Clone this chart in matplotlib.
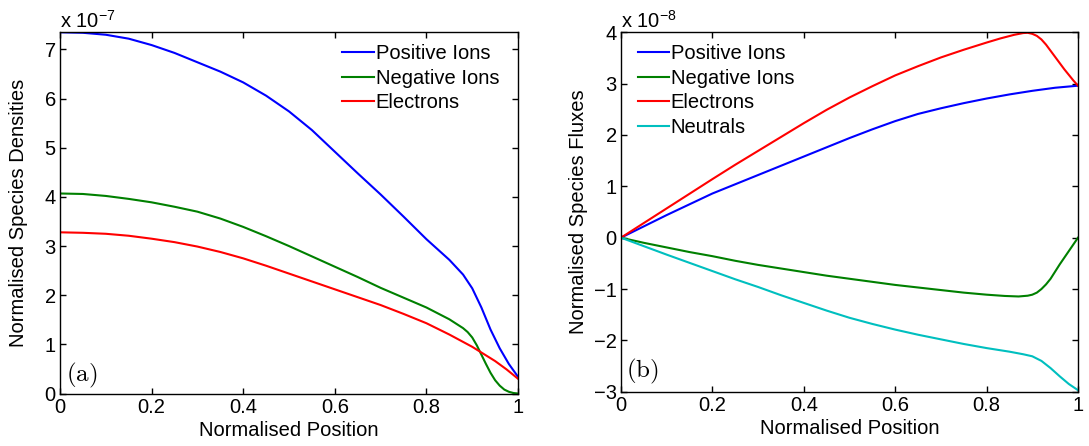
import matplotlib
matplotlib.use('Agg')
import matplotlib.pyplot as plt

plt.rcParams['font.family'] = ['Liberation Sans', 'DejaVu Sans']
plt.rcParams['mathtext.fontset'] = 'custom'
plt.rcParams['mathtext.rm'] = 'Liberation Sans'

# (a) densities, units of 1e-7
x_pos_d = [0, 0.05, 0.1, 0.15, 0.2, 0.25, 0.3, 0.35, 0.4, 0.45, 0.5, 0.55, 0.6, 0.65, 0.7,
           0.75, 0.8, 0.85, 0.88, 0.9, 0.92, 0.94, 0.96, 0.98, 1.0]
pos_d = [7.35, 7.34, 7.30, 7.22, 7.09, 6.93, 6.74, 6.55, 6.33, 6.06, 5.74, 5.36, 4.92, 4.48, 4.05,
         3.60, 3.14, 2.72, 2.42, 2.14, 1.75, 1.30, 0.92, 0.60, 0.34]

x_neg_d = [0, 0.05, 0.1, 0.15, 0.2, 0.25, 0.3, 0.35, 0.4, 0.45, 0.5, 0.55, 0.6, 0.65, 0.7, 0.75,
           0.8, 0.85, 0.88, 0.89, 0.9, 0.91, 0.92, 0.93, 0.94, 0.95, 0.96, 0.97, 0.98, 0.99, 1.0]
neg_d = [4.07, 4.06, 4.02, 3.96, 3.89, 3.80, 3.70, 3.56, 3.39, 3.20, 3.00, 2.79, 2.58, 2.37, 2.15, 1.95,
         1.75, 1.51, 1.33, 1.25, 1.14, 0.98, 0.79, 0.60, 0.42, 0.27, 0.16, 0.08, 0.035, 0.01, 0.0]

x_ele_d = [0, 0.05, 0.1, 0.15, 0.2, 0.25, 0.3, 0.35, 0.4, 0.45, 0.5, 0.55, 0.6, 0.65, 0.7, 0.75,
           0.8, 0.85, 0.9, 0.95, 0.975, 1.0]
ele_d = [3.28, 3.27, 3.25, 3.21, 3.15, 3.08, 2.99, 2.88, 2.75, 2.60, 2.44, 2.28, 2.12, 1.96, 1.80, 1.62,
         1.43, 1.20, 0.95, 0.66, 0.49, 0.30]

# (b) fluxes, units of 1e-8
x_pos_f = [0, 0.05, 0.1, 0.15, 0.2, 0.25, 0.3, 0.35, 0.4, 0.45, 0.5, 0.55, 0.6, 0.65, 0.7, 0.75,
           0.8, 0.85, 0.9, 0.95, 1.0]
pos_f = [0, 0.22, 0.44, 0.65, 0.86, 1.04, 1.22, 1.40, 1.58, 1.76, 1.94, 2.11, 2.27, 2.41, 2.52, 2.62,
         2.71, 2.79, 2.86, 2.92, 2.96]

x_ele_f = [0, 0.05, 0.1, 0.15, 0.2, 0.25, 0.3, 0.35, 0.4, 0.45, 0.5, 0.55, 0.6, 0.65, 0.7, 0.75,
           0.8, 0.83, 0.86, 0.88, 0.89, 0.9, 0.91, 0.92, 0.93, 0.94, 0.95, 0.96, 0.97, 0.98, 0.99, 1.0]
ele_f = [0, 0.285, 0.57, 0.855, 1.14, 1.42, 1.69, 1.96, 2.23, 2.49, 2.73, 2.95, 3.16, 3.34, 3.51, 3.66,
         3.80, 3.88, 3.95, 3.985, 3.99, 3.97, 3.93, 3.86, 3.76, 3.64, 3.52, 3.40, 3.28, 3.17, 3.06, 2.96]

x_neg_f = [0, 0.05, 0.1, 0.15, 0.2, 0.25, 0.3, 0.35, 0.4, 0.45, 0.5, 0.55, 0.6, 0.65, 0.7, 0.75,
           0.8, 0.84, 0.87, 0.89, 0.9, 0.91, 0.92, 0.93, 0.94, 0.95, 0.96, 0.97, 0.98, 0.99, 1.0]
neg_f = [0, -0.10, -0.19, -0.28, -0.36, -0.45, -0.53, -0.60, -0.67, -0.74, -0.80, -0.86, -0.92, -0.97,
         -1.02, -1.07, -1.11, -1.135, -1.145, -1.13, -1.11, -1.07, -1.00, -0.91, -0.80, -0.66, -0.52,
         -0.39, -0.26, -0.13, 0.0]

x_neu_f = [0, 0.05, 0.1, 0.15, 0.2, 0.25, 0.3, 0.35, 0.4, 0.45, 0.5, 0.55, 0.6, 0.65, 0.7, 0.75,
           0.8, 0.85, 0.88, 0.9, 0.92, 0.94, 0.96, 0.98, 1.0]
neu_f = [0, -0.165, -0.33, -0.49, -0.65, -0.81, -0.96, -1.12, -1.27, -1.42, -1.56, -1.68, -1.79, -1.89,
         -1.98, -2.07, -2.15, -2.22, -2.27, -2.31, -2.40, -2.54, -2.70, -2.85, -2.97]

xticks = [0, 0.2, 0.4, 0.6, 0.8, 1]
xticklabels = ['0', '0.2', '0.4', '0.6', '0.8', '1']

BLUE = (0, 0, 1)
GREEN = (0, 0.5, 0)
RED = (1, 0, 0)
CYAN = (0, 0.75, 0.75)
LW = 1.5
FS = 14.5

fig = plt.figure(figsize=(10.89, 4.46), dpi=100)
ax1 = fig.add_axes([0.0551, 0.1177, 0.4206, 0.8099])
ax2 = fig.add_axes([0.5702, 0.1217, 0.4197, 0.8059])


def style(ax):
    ax.set_xlim(0, 1)
    ax.set_xticks(xticks)
    ax.set_xticklabels(xticklabels)
    ax.tick_params(direction='in', length=4, width=1, top=True, right=True,
                   labelsize=FS, pad=3)
    for s in ax.spines.values():
        s.set_linewidth(1.0)
    ax.set_xlabel('Normalised Position', fontsize=FS)
    ax.xaxis.set_label_coords(0.5, -0.076)


leg_kw = dict(frameon=False, fontsize=FS, handlelength=1.55, handletextpad=0.1,
              labelspacing=0.27, borderaxespad=0.2)

ax1.plot(x_pos_d, pos_d, color=BLUE, lw=LW, label='Positive Ions')
ax1.plot(x_neg_d, neg_d, color=GREEN, lw=LW, label='Negative Ions')
ax1.plot(x_ele_d, ele_d, color=RED, lw=LW, label='Electrons')
style(ax1)
ax1.set_ylim(0, 7.35)
ax1.set_yticks(range(0, 8))
ax1.set_ylabel('Normalised Species Densities', fontsize=FS)
ax1.yaxis.set_label_coords(-0.070, 0.5)
ax1.text(0, 1.0, r'x 10$^{\mathregular{-7}}$', transform=ax1.transAxes,
         fontsize=FS, ha='left', va='bottom')
ax1.text(0.012, 0.05, r'$\mathrm{(a)}$', transform=ax1.transAxes,
         fontsize=18, math_fontfamily='cm', ha='left', va='center')
ax1.legend(loc='upper right', bbox_to_anchor=(0.985, 1.0), **leg_kw)

ax2.plot(x_pos_f, pos_f, color=BLUE, lw=LW, label='Positive Ions')
ax2.plot(x_neg_f, neg_f, color=GREEN, lw=LW, label='Negative Ions')
ax2.plot(x_ele_f, ele_f, color=RED, lw=LW, label='Electrons')
ax2.plot(x_neu_f, neu_f, color=CYAN, lw=LW, label='Neutrals')
style(ax2)
ax2.set_ylim(-3, 4)
ax2.set_yticks(range(-3, 5))
ax2.set_ylabel('Normalised Species Fluxes', fontsize=FS)
ax2.yaxis.set_label_coords(-0.072, 0.5)
ax2.text(0, 1.0, r'x 10$^{\mathregular{-8}}$', transform=ax2.transAxes,
         fontsize=FS, ha='left', va='bottom')
ax2.text(0.012, 0.055, r'$\mathrm{(b)}$', transform=ax2.transAxes,
         fontsize=18, math_fontfamily='cm', ha='left', va='center')
ax2.legend(loc='upper left', bbox_to_anchor=(0.01, 1.0), **leg_kw)

fig.savefig('out.png', dpi=100)
